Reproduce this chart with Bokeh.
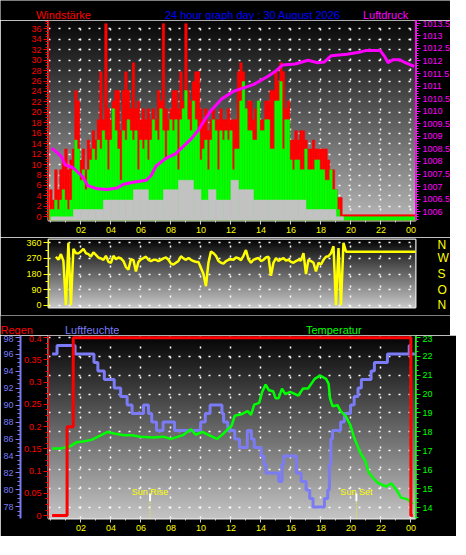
import numpy as np
from bokeh.plotting import figure
from bokeh.layouts import column, row
from bokeh.models import Range1d, LinearAxis, FixedTicker
from bokeh.core.properties import value
from bokeh.embed import file_html
from bokeh.resources import INLINE

FONT = "Liberation Sans"

# ---------------- data ----------------
title_main = "24 hour graph day : 30 August 2026"
hour_ticks = [2, 4, 6, 8, 10, 12, 14, 16, 18, 20, 22, 24]
hour_labels = ["02", "04", "06", "08", "10", "12", "14", "16", "18", "20", "22", "00"]

# wind gust / wind speed (km/h), 10-minute slots from 00:00
gust = [5.2, 3.2, 9.0, 5.2, 9.0, 10.9,
        13.0, 9.0, 10.9, 13.0, 24.2, 22.2,
        10.9, 13.0, 9.0, 14.7, 13.0, 16.5,
        14.7, 18.6, 27.8, 18.6, 37.0, 20.7,
        18.6, 22.2, 24.2, 24.2, 16.5, 24.2,
        27.8, 24.2, 20.7, 29.5, 20.7, 22.2,
        18.6, 20.7, 18.6, 20.7, 18.6, 20.7,
        18.6, 24.2, 22.2, 37.0, 20.7, 18.6,
        20.7, 24.2, 24.2, 20.7, 27.8, 22.2,
        37.0, 24.2, 22.2, 25.9, 27.8, 27.8,
        20.7, 18.6, 20.7, 16.5, 18.6, 20.7,
        18.6, 18.6, 20.7, 18.6, 18.6, 20.7,
        18.6, 18.6, 18.6, 27.8, 29.5, 27.8,
        20.7, 22.2, 22.2, 18.6, 20.7, 22.2,
        18.6, 18.6, 22.2, 22.2, 24.2, 24.2,
        27.8, 25.9, 29.5, 27.8, 20.7, 22.2,
        14.7, 14.7, 16.5, 14.7, 16.5, 16.5,
        14.7, 13.0, 13.0, 14.7, 13.0, 13.0,
        13.0, 13.0, 13.0, 10.9, 9.0, 9.0,
        5.2, 3.7, 3.7, 0.4, 0.4, 0.4,
        0.4, 0.4, 0.4, 0.4, 0.4, 0.4,
        0.4, 0.4, 0.4, 0.4, 0.4, 0.4,
        0.4, 0.4, 0.4, 0.4, 0.4, 0.4,
        0.4, 0.4, 0.4, 0.4, 0.4, 0.4,
        0.4, 0.4, 0.4]
wind = [1.4, 1.4, 3.2, 1.4, 3.2, 5.2,
        3.2, 1.4, 3.2, 9.0, 14.7, 13.0,
        7.0, 9.0, 5.2, 9.0, 10.9, 13.0,
        10.9, 14.7, 13.0, 16.5, 14.7, 9.0,
        14.7, 20.7, 16.5, 13.0, 7.0, 16.5,
        14.7, 18.6, 16.5, 14.7, 16.5, 9.0,
        14.7, 13.0, 14.7, 10.9, 14.7, 18.6,
        16.5, 14.7, 20.7, 16.5, 10.9, 16.5,
        18.6, 16.5, 18.6, 9.0, 18.6, 20.7,
        24.2, 18.6, 16.5, 22.2, 18.6, 16.5,
        10.9, 13.0, 14.7, 9.0, 14.7, 18.6,
        16.5, 9.0, 16.5, 14.7, 16.5, 14.7,
        16.5, 9.0, 13.0, 13.0, 22.2, 25.9,
        20.7, 16.5, 16.5, 14.7, 14.7, 22.2,
        16.5, 16.5, 18.6, 18.6, 13.0, 13.0,
        22.2, 22.2, 25.9, 13.0, 18.6, 18.6,
        10.9, 9.0, 10.9, 10.9, 9.0, 9.0,
        13.0, 9.0, 9.0, 9.0, 10.9, 10.9,
        9.0, 9.0, 7.0, 7.0, 9.0, 5.2,
        5.2, 1.4, 0.0, 0.0, 0.0, 0.0,
        0.0, 0.0, 0.0, 0.0, 0.0, 0.0,
        0.0, 0.0, 0.0, 0.0, 0.0, 0.0,
        0.0, 0.0, 0.0, 0.0, 0.0, 0.0,
        0.0, 0.0, 0.0, 0.0, 0.0, 0.0,
        0.0, 0.0, 0.0]
wind_t = np.arange(len(gust)) / 6.0

# light-grey low wind level, 30-minute slots
wind_low = [0, 0, 0, 1.4, 1.4, 1.4, 1.4, 3.2, 3.2, 3.2,
            3.2, 5.2, 5.2, 3.2, 3.2, 5.2, 5.2, 7.0, 7.0, 5.2,
            3.2, 5.2, 3.2, 3.2, 7.0, 5.2, 5.2, 3.2, 3.2, 3.2,
            3.2, 3.2, 3.2, 3.2, 1.4, 1.4, 1.4, 1.4, 0]
wind_low_t = np.arange(len(wind_low)) / 2.0 + 0.25

# pressure (hPa)
press_t = [0.05, 0.40, 0.72, 0.94, 1.48, 2.13, 2.45, 3.10, 3.75, 4.40, 4.84, 5.49,
           6.35, 6.68, 7.00, 7.65, 8.30, 8.95, 9.38, 9.81, 10.25, 10.71, 11.36, 12.21,
           13.49, 14.53, 14.99, 15.44, 16.29, 17.14, 17.78, 18.23, 18.69, 19.73, 20.64,
           21.03, 21.94, 22.27, 22.47, 22.79, 23.23, 23.62, 24.21]
press_v = [1008.53, 1008.36, 1008.18, 1007.87, 1007.75, 1007.38, 1007.04, 1006.91, 1006.88,
           1006.94, 1007.09, 1007.17, 1007.25, 1007.44, 1007.81, 1008.12, 1008.30, 1008.67,
           1008.92, 1009.23, 1009.66, 1010.05, 1010.48, 1010.80, 1011.06, 1011.41, 1011.60,
           1011.84, 1011.88, 1012.03, 1011.93, 1011.96, 1012.21, 1012.27, 1012.36, 1012.42,
           1012.42, 1012.15, 1011.93, 1012.05, 1012.05, 1011.93, 1011.78]

# wind direction (degrees), 10-minute slots from 00:20
wind_dir = [280, 262, 295, 255, 0, 360, 0, 325, 300, 299, 310, 325,
            300, 295, 280, 305, 290, 275, 270, 262, 285, 250, 245, 285,
            265, 275, 270, 255, 220, 205, 265, 260, 195, 250, 265, 272,
            280, 262, 255, 262, 262, 255, 262, 270, 275, 262, 240, 235,
            245, 255, 282, 270, 262, 272, 262, 255, 250, 250, 215, 180,
            110, 245, 310, 300, 285, 255, 245, 240, 255, 262, 265, 262,
            275, 271, 260, 285, 318, 265, 245, 262, 268, 272, 255, 262,
            275, 280, 170, 245, 272, 255, 265, 272, 258, 262, 250, 245,
            255, 262, 258, 300, 180, 262, 255, 245, 195, 245, 235, 262,
            280, 282, 300, 340, 0, 330, 0, 360,
            309, 309, 309, 309, 309, 309, 309, 309, 309, 309,
            309, 309, 309, 309, 309, 309, 309, 309, 309, 309,
            309, 309, 309, 309, 309, 309, 309, 309, 309]
dir_t = (np.arange(len(wind_dir)) + 2) / 6.0
dir_ticks = [0, 90, 180, 270, 360]
dir_letters = ["N", "O", "S", "W", "N"]

# rain (mm)
rain_t = [0.08, 1.08, 1.49, 23.99, 24.12]
rain_v = [0.0, 0.2, 0.4, 0.0, 0.0]

# humidity (%)
hum_t = [0.08, 0.41, 1.61, 2.87, 3.13, 3.56, 4.22, 4.65, 5.08, 5.41,
         6.17, 6.50, 6.72, 7.04, 7.48, 8.24, 9.98, 10.29, 10.61, 11.40,
         11.51, 11.79, 12.25, 12.57, 13.09, 13.36, 13.55, 14.01, 14.20, 14.33,
         15.18, 15.40, 15.51, 16.36, 16.68, 17.01, 17.25, 17.47, 18.23, 18.45,
         18.56, 18.66, 18.77, 19.31, 19.56, 19.97, 20.21, 20.47, 20.69, 21.34,
         21.56, 22.43, 23.88, 23.95, 24.26]
hum_v = [96, 97, 96, 95, 94, 93, 92, 91, 90, 89,
         90, 89, 88, 87, 88, 87, 88, 89, 90, 89,
         88, 87, 86, 85, 87, 86, 85, 84, 83, 82,
         81, 83, 84, 82, 81, 80, 79, 78, 79, 80,
         83, 86, 87, 88, 89, 90, 91, 92, 93, 94,
         95, 96, 97, 96, 96]

# temperature (deg C)
temp_t = [0.08, 0.63, 1.28, 1.72, 2.15, 2.70, 3.35, 3.78, 4.22, 4.87, 5.41, 5.96,
          6.83, 7.48, 8.02, 8.79, 9.33, 9.65, 10.09, 10.53, 11.07, 11.51, 12.05, 12.25,
          12.68, 13.11, 13.34, 13.55, 13.88, 14.09, 14.31, 14.53, 14.81, 14.97, 15.18,
          15.40, 15.62, 15.95, 16.49, 16.81, 17.14, 17.58, 17.94, 18.34, 18.51, 18.60,
          18.77, 19.10, 19.31, 19.64, 19.97, 20.19, 20.62, 20.95, 21.17, 21.49, 21.82,
          22.36, 22.69, 23.02, 23.34, 23.78, 24.11]
temp_v = [17.12, 17.12, 17.24, 17.46, 17.49, 17.58, 17.83, 18.00, 17.92, 17.83, 17.83, 17.75,
          17.70, 17.75, 17.63, 17.83, 18.14, 17.85, 18.00, 17.83, 17.63, 17.92, 18.34, 18.85,
          18.93, 19.10, 18.90, 19.44, 19.53, 20.12, 20.50, 20.20, 20.15, 19.78, 19.78,
          20.29, 19.99, 20.12, 19.92, 20.29, 20.29, 20.80, 20.97, 20.80, 20.54, 19.78,
          19.36, 19.41, 19.10, 18.85, 18.34, 17.75, 16.90, 16.48, 15.88, 15.55, 15.29,
          15.12, 15.29, 14.95, 14.53, 14.44, 14.19]

sun_t = [6.61, 20.36]
sun_labels = ["Sun Rise", "Sun Set"]

wind_ticks = [0, 2, 4, 6, 8, 10, 12, 14, 16, 18, 20, 22, 24, 26, 28, 30, 32, 34, 36]
press_ticks = [1006.0, 1006.5, 1007.0, 1007.5, 1008.0, 1008.5, 1009.0, 1009.5,
               1010.0, 1010.5, 1011.0, 1011.5, 1012.0, 1012.5, 1013.0, 1013.5]
rain_ticks = [0.0, 0.05, 0.1, 0.15, 0.2, 0.25, 0.3, 0.35, 0.4]
hum_ticks = [78, 80, 82, 84, 86, 88, 90, 92, 94, 96, 98]
temp_ticks = [14, 15, 16, 17, 18, 19, 20, 21, 22, 23]

# panel titles: text, colour, hour position, alignment
top_titles = ["Windstärke", title_main, "Luftdruck"]
top_title_colors = ["#ff0000", "#0000ff", "#ff00ff"]
top_title_x = [-0.60, 13.85, 24.21]
top_title_align = ["left", "center", "right"]
low_titles = ["Regen", "Luftfeuchte", "Temperatur"]
low_title_colors = ["#ff0000", "#7b7bf5", "#00ff00"]
low_title_x = [-2.96, 1.34, 17.4]
low_title_align = ["left", "left", "left"]

# ---------------- layout constants ----------------
XR = (-0.16, 24.3)
WIND_R = (-0.71, 37.6)
PRESS_R = (1005.65, 1013.61)
DIR_R = (-13.0, 379.0)
RAIN_R = (-0.0065, 0.405)
HUM_R = (76.64, 98.19)
TEMP_R = (13.43, 23.09)
FW = 367
BL, BR = 42, 41
H1, H2, H3 = 200, 68, 183
PPU = FW / (XR[1] - XR[0])

RED, GREEN, MAG, YEL = "#ff0000", "#00ff00", "#ff00ff", "#ffff00"
HUMC = "#7b7bf5"


def make_fig(fh, yr, top, bottom):
    p = figure(frame_width=FW, frame_height=fh, x_range=Range1d(*XR), y_range=Range1d(*yr),
               output_backend="svg", toolbar_location=None, title=None,
               background_fill_color="black", border_fill_color="black",
               min_border_left=BL, min_border_right=BR, min_border_top=top,
               min_border_bottom=bottom)
    p.outline_line_color = "#e6e6e6"
    p.outline_line_width = 2
    p.grid.grid_line_color = "white"
    p.grid.grid_line_dash = "2 8"
    p.grid.grid_line_width = 1.5
    p.xgrid.ticker = FixedTicker(ticks=hour_ticks)
    return p


def title_strip(height, baseline, texts, colors, xs, aligns):
    s = figure(frame_width=FW + BL + BR, frame_height=height,
               x_range=Range1d(XR[0] - BL / PPU, XR[1] + BR / PPU), y_range=Range1d(0, height),
               output_backend="svg", toolbar_location=None, title=None,
               background_fill_color="black", border_fill_color="black",
               min_border=0, min_border_left=0, min_border_right=0,
               min_border_top=0, min_border_bottom=0)
    s.axis.visible = False
    s.grid.visible = False
    s.outline_line_color = None
    s.text(x=xs, y=baseline, text=texts, text_color=colors, text_align=aligns,
           text_font=value(FONT), text_font_size="11px", text_baseline="alphabetic")
    return s


def add_gradient(p, yr, top_gray, bottom_gray):
    n = 160
    g = np.linspace(bottom_gray, top_gray, n).round().astype(np.uint32)
    img = ((np.uint32(255) << np.uint32(24)) | (g << np.uint32(16)) | (g << np.uint32(8)) | g).reshape(n, 1)
    p.image_rgba(image=[img], x=XR[0], y=yr[0], dw=XR[1] - XR[0], dh=yr[1] - yr[0], level="image")


def style_axis(ax, color, size="9px", tick_color=None):
    tc = tick_color or color
    ax.major_label_text_color = color
    ax.major_label_text_font = FONT
    ax.major_label_text_font_size = size
    ax.major_tick_line_color = tc
    ax.minor_tick_line_color = tc
    ax.axis_line_color = tc
    ax.major_tick_in = 0
    ax.major_tick_out = 5
    ax.minor_tick_in = 0
    ax.minor_tick_out = 3
    ax.major_label_standoff = 2


def style_xaxis(ax):
    ax.ticker = FixedTicker(ticks=hour_ticks, minor_ticks=list(range(0, 25)))
    ax.major_label_overrides = dict(zip(hour_ticks, hour_labels))
    style_axis(ax, YEL, tick_color="#d0d0d0")
    ax.axis_line_color = None
    ax.major_tick_out = 4
    ax.minor_tick_out = 2


# ---------------- title strip 1 ----------------
t1 = title_strip(20, 6, top_titles, top_title_colors, top_title_x, top_title_align)

# ---------------- panel 1: wind + pressure ----------------
p1 = make_fig(H1, WIND_R, 0, 17)
p1.extra_y_ranges = {"press": Range1d(*PRESS_R)}
add_gradient(p1, WIND_R, 6, 182)
p1.ygrid.ticker = FixedTicker(ticks=wind_ticks)

p1.vbar(x=wind_t, top=gust, bottom=WIND_R[0], width=1 / 6, fill_color=RED, line_color=RED, line_width=0.5)
p1.vbar(x=wind_t, top=wind, bottom=WIND_R[0], width=1 / 6, fill_color=GREEN, line_color=GREEN, line_width=0.5)
p1.vbar(x=wind_low_t, top=wind_low, bottom=WIND_R[0], width=0.5, fill_color="#c2c2c2",
        line_color="#c2c2c2", line_width=0.5)
p1.line(press_t, press_v, y_range_name="press", line_color=MAG, line_width=3)

ly = p1.yaxis[0]
ly.ticker = FixedTicker(ticks=wind_ticks, minor_ticks=[v / 2 for v in range(0, 76)])
style_axis(ly, RED)
rp = LinearAxis(y_range_name="press",
                ticker=FixedTicker(ticks=press_ticks,
                                   minor_ticks=np.round(np.arange(1005.7, 1013.65, 0.1), 1).tolist()),
                major_label_overrides={t: f"{t:g}" for t in press_ticks})
style_axis(rp, MAG)
p1.add_layout(rp, "right")
style_xaxis(p1.xaxis[0])

# ---------------- panel 2: wind direction ----------------
p2 = make_fig(H2, DIR_R, 2, 8)
add_gradient(p2, DIR_R, 4, 200)
p2.ygrid.ticker = FixedTicker(ticks=dir_ticks)
p2.line(dir_t, wind_dir, line_color=YEL, line_width=2.5)
ly2 = p2.yaxis[0]
ly2.ticker = FixedTicker(ticks=dir_ticks, minor_ticks=[0, 45, 90, 135, 180, 225, 270, 315, 360])
style_axis(ly2, YEL)
ra2 = LinearAxis(ticker=FixedTicker(ticks=dir_ticks),
                 major_label_overrides=dict(zip(dir_ticks, dir_letters)))
style_axis(ra2, YEL, size="12px")
ra2.axis_line_color = None
ra2.major_tick_line_color = None
ra2.minor_tick_line_color = None
ra2.major_label_standoff = 17
p2.add_layout(ra2, "right")
p2.xaxis.visible = False

# ---------------- title strip 3 ----------------
t3 = title_strip(20, 6, low_titles, low_title_colors, low_title_x, low_title_align)

# ---------------- panel 3: rain, humidity, temperature ----------------
p3 = make_fig(H3, RAIN_R, 0, 18)
p3.extra_y_ranges = {"hum": Range1d(*HUM_R), "temp": Range1d(*TEMP_R)}
add_gradient(p3, RAIN_R, 4, 196)
p3.ygrid[0].y_range_name = "temp"
p3.ygrid[0].ticker = FixedTicker(ticks=temp_ticks)

p3.step(hum_t, hum_v, mode="after", y_range_name="hum", line_color=HUMC, line_width=3)
p3.line(temp_t, temp_v, y_range_name="temp", line_color=GREEN, line_width=2.5)
p3.step(rain_t, rain_v, mode="after", line_color=RED, line_width=3)

p3.segment(x0=sun_t, x1=sun_t, y0=RAIN_R[0], y1=0.0324, line_color=YEL, line_width=1, line_dash="1 2")
p3.segment(x0=sun_t, x1=sun_t, y0=0.0324, y1=0.0497, line_color="white", line_width=2)
p3.text(x=sun_t, y=0.054, text=sun_labels, text_color=YEL, text_font=value(FONT),
        text_font_size="9px", text_align="center", text_baseline="alphabetic")

la3 = p3.yaxis[0]
la3.ticker = FixedTicker(ticks=rain_ticks, minor_ticks=np.round(np.arange(0, 0.41, 0.0125), 4).tolist())
la3.major_label_overrides = {t: f"{t:g}" for t in rain_ticks}
style_axis(la3, RED)
ha3 = LinearAxis(y_range_name="hum",
                 ticker=FixedTicker(ticks=hum_ticks, minor_ticks=[v / 2 for v in range(154, 198)]))
style_axis(ha3, HUMC)
ha3.axis_line_width = 2
p3.add_layout(ha3, "left")
ta3 = LinearAxis(y_range_name="temp",
                 ticker=FixedTicker(ticks=temp_ticks, minor_ticks=[v / 4 for v in range(54, 93)]))
style_axis(ta3, GREEN)
p3.add_layout(ta3, "right")
style_xaxis(p3.xaxis[0])

layout = column(row(t1), p1, p2, row(t3), p3, spacing=0)
open("out.html", "w").write(file_html(layout, INLINE))
